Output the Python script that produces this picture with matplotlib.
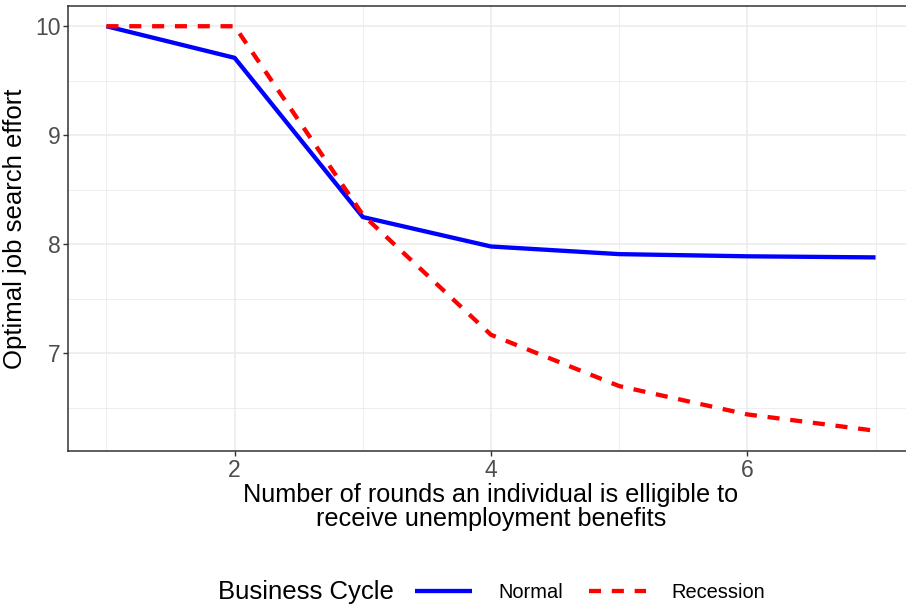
import matplotlib
matplotlib.use("Agg")
import matplotlib.pyplot as plt
from matplotlib.ticker import MultipleLocator

plt.rcParams['font.family'] = ['Liberation Sans', 'DejaVu Sans']

rounds = [1, 2, 3, 4, 5, 6, 7]
normal = [10.0, 9.71, 8.25, 7.98, 7.91, 7.89, 7.88]
recession = [10.0, 10.0, 8.27, 7.17, 6.70, 6.44, 6.29]
series_names = ["Normal", "Recession"]

fig = plt.figure(figsize=(9.06, 6.05), dpi=100)
ax = fig.add_axes([68/906, 1-451/605, (914-68)/906, (451-6)/605])

ln1, = ax.plot(rounds, normal, color='#0000ff', lw=3.1, solid_capstyle='butt', zorder=3)
ln2, = ax.plot(rounds, recession, color='#ff0000', lw=3.1, dashes=(2.8, 2.5), dash_capstyle='butt', zorder=3)

lo, hi = min(recession + normal), max(recession + normal)
pad = (hi - lo) * 0.05
ax.set_ylim(lo - pad, hi + pad)
ax.set_xlim(0.7, 7.3)

ax.xaxis.set_major_locator(MultipleLocator(2))
ax.xaxis.set_minor_locator(MultipleLocator(1))
ax.yaxis.set_major_locator(MultipleLocator(1))
ax.yaxis.set_minor_locator(MultipleLocator(0.5))
ax.grid(which='major', color='#ebebeb', lw=1.1)
ax.grid(which='minor', color='#ebebeb', lw=0.6)
ax.set_axisbelow(True)
ax.tick_params(which='minor', length=0)
ax.tick_params(which='major', length=3.5, width=1, color='#333333', labelcolor='#4d4d4d', labelsize=16.5, pad=2)
for s in ax.spines.values():
    s.set_color('#333333')
    s.set_linewidth(1.1)

ax.set_ylabel("Optimal job search effort", fontsize=18.5, color='black', labelpad=6)
ax.set_xlabel("Number of rounds an individual is elligible to\nreceive unemployment benefits",
              fontsize=18.2, color='black', labelpad=1, linespacing=1.0)

fig.text(218/906, 1-592/605, "Business Cycle", fontsize=18.5, va='center', ha='left')
leg = fig.legend([ln1, ln2], series_names, loc='center left', bbox_to_anchor=(415/906, 1-592/605),
                 ncol=2, frameon=False, fontsize=14.4, handlelength=2.85, handletextpad=1.3,
                 columnspacing=1.3, borderaxespad=0, borderpad=0)

fig.savefig("out.png", dpi=100)
